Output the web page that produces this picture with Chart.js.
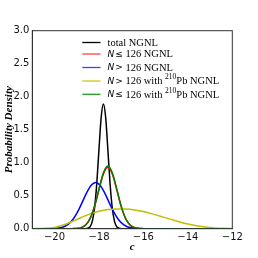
<!DOCTYPE html>
<html>
<head>
<meta charset="utf-8">
<script src="https://cdn.jsdelivr.net/npm/chart.js@4.4.0/dist/chart.umd.min.js"></script>
<style>
  html, body { margin: 0; padding: 0; background: #fff; }
  #c { display: block; }
</style>
</head>
<body>
<canvas id="c" width="258" height="258"></canvas>
<script>
// values
const xTicks = [-20, -18, -16, -14, -12];
const yTicks = [0, 0.5, 1.0, 1.5, 2.0, 2.5, 3.0];

const totalX = [-21, -18.8, -18.7, -18.6, -18.5, -18.4, -18.3, -18.2, -18.1, -18.0, -17.9, -17.8,
    -17.7, -17.6, -17.5, -17.4, -17.3, -17.2, -17.1, -17.0, -16.9, -16.8, -12];
const totalY = [0, 0, 0.0002, 0.001, 0.007, 0.03, 0.11, 0.31, 0.68, 1.20, 1.69, 1.89,
    1.69, 1.20, 0.68, 0.31, 0.11, 0.03, 0.007, 0.001, 0.0002, 0, 0];

const lowX = [-21, -19.6, -19.4, -19.2, -19.0, -18.8, -18.6, -18.4, -18.2, -18.0, -17.8, -17.6,
    -17.4, -17.2, -17.0, -16.8, -16.6, -16.4, -16.2, -16.0, -15.8, -15.6, -12];
const lowY = [0, 0, 0.0001, 0.001, 0.004, 0.016, 0.055, 0.152, 0.335, 0.59, 0.83, 0.93,
    0.83, 0.59, 0.335, 0.152, 0.055, 0.016, 0.004, 0.001, 0.0001, 0, 0];

const highX = [-21, -20.35, -20.15, -19.95, -19.75, -19.55, -19.35, -19.15, -18.95, -18.75, -18.55, -18.35,
    -18.15, -17.95, -17.75, -17.55, -17.35, -17.15, -16.95, -16.75, -16.55, -16.35, -16.15, -15.95, -12];
const highY = [0, 0, 0.001, 0.005, 0.013, 0.034, 0.076, 0.150, 0.261, 0.403, 0.547, 0.658,
    0.70, 0.658, 0.547, 0.403, 0.261, 0.150, 0.076, 0.034, 0.013, 0.005, 0.001, 0, 0];

const highPbX = [-21, -20.4, -20.0, -19.6, -19.2, -18.8, -18.4, -18.0, -17.6, -17.2, -16.8, -16.4,
    -16.0, -15.6, -15.2, -14.8, -14.4, -14.0, -13.6, -13.2, -12.8, -12.4, -12];
const highPbY = [0.001, 0.007, 0.02, 0.055, 0.11, 0.17, 0.225, 0.265, 0.29, 0.30, 0.298, 0.285,
    0.26, 0.225, 0.185, 0.145, 0.105, 0.07, 0.045, 0.025, 0.012, 0.005, 0.002];

const lowPbX = lowX;
const lowPbY = [0, 0, 0.0001, 0.001, 0.004, 0.016, 0.056, 0.155, 0.342, 0.603, 0.848, 0.95,
    0.848, 0.603, 0.342, 0.155, 0.056, 0.016, 0.004, 0.001, 0.0001, 0, 0];

function pts(xs, ys) {
    return xs.map((x, i) => ({ x: x, y: ys[i] }));
}

const serif = '"Liberation Serif", "DejaVu Serif", serif';
const sans = '"DejaVu Sans", sans-serif';

const tx = "10.5px " + serif;
const mN = { t: "N", f: "italic 9px " + sans, gap: 1 };
const mLe = { t: "≤", f: "9px " + sans };
const mGt = { t: ">", f: "9px " + sans };
const sup = { t: "210", f: "7.5px " + serif, dy: -4 };

// legend rows: line colour + text runs (mixed fonts, superscript)
const legendRows = [
    { color: "#000000", runs: [{ t: "total NGNL", f: tx }] },
    { color: "#ff4040", runs: [mN, mLe, { t: " 126 NGNL", f: tx }] },
    { color: "#4040ff", runs: [mN, mGt, { t: " 126 NGNL", f: tx }] },
    { color: "#c8c820", runs: [mN, mGt, { t: " 126 with ", f: tx }, sup, { t: "Pb NGNL", f: tx }] },
    { color: "#20a020", runs: [mN, mLe, { t: " 126 with ", f: tx }, sup, { t: "Pb NGNL", f: tx }] },
];
const legendRowY = [42.5, 54, 67.5, 81, 94.3];

const framePlugin = {
    id: "frame",
    afterDraw(chart) {
        const ctx = chart.ctx;
        const a = chart.chartArea;
        ctx.save();
        ctx.strokeStyle = "#333";
        ctx.lineWidth = 1;
        ctx.strokeRect(a.left, a.top, a.right - a.left, a.bottom - a.top);

        // legend
        legendRows.forEach((row, i) => {
            const y = legendRowY[i];
            ctx.strokeStyle = row.color;
            ctx.lineWidth = 1.3;
            ctx.beginPath();
            ctx.moveTo(82.3, y);
            ctx.lineTo(100.5, y);
            ctx.stroke();
            let x = 107.5;
            ctx.fillStyle = "#000";
            ctx.textBaseline = "middle";
            row.runs.forEach(r => {
                ctx.font = r.f;
                ctx.fillText(r.t, x, y + 0.5 + (r.dy || 0));
                x += ctx.measureText(r.t).width + (r.gap || 0);
            });
        });
        ctx.restore();
    }
};

function ds(label, xs, ys, color, order) {
    return {
        label: label,
        data: pts(xs, ys),
        borderColor: color,
        backgroundColor: color,
        borderWidth: 1.5,
        pointRadius: 0,
        cubicInterpolationMode: "monotone",
        fill: false,
        order: order,
    };
}

new Chart(document.getElementById("c"), {
    type: "line",
    data: {
        datasets: [
            ds("total NGNL", totalX, totalY, "#000000", 5),
            ds("N ≤ 126 NGNL", lowX, lowY, "#ff0000", 4),
            ds("N > 126 NGNL", highX, highY, "#0000ff", 3),
            ds("N > 126 with 210Pb NGNL", highPbX, highPbY, "#bfbf00", 2),
            ds("N ≤ 126 with 210Pb NGNL", lowPbX, lowPbY, "#008000", 1),
        ],
    },
    options: {
        responsive: false,
        animation: false,
        layout: { padding: { left: 0, top: 30.7, right: 25.7, bottom: 0 } },
        plugins: {
            legend: { display: false },
            tooltip: { enabled: false },
        },
        scales: {
            x: {
                type: "linear",
                min: -21,
                max: -12,
                afterBuildTicks: s => { s.ticks = xTicks.map(v => ({ value: v })); },
                afterFit: s => { s.height = 29.3; },
                grid: { display: false, drawTicks: false },
                border: { color: "#333", width: 1 },
                ticks: {
                    color: "#111",
                    padding: 3,
                    maxRotation: 0,
                    font: { family: sans, size: 10 },
                    callback: v => (v < 0 ? "−" + Math.abs(v) : String(v)),
                },
                title: {
                    display: true,
                    text: "c",
                    color: "#000",
                    padding: { top: 0, bottom: 4.7 },
                    font: { family: serif, size: 11, style: "italic", weight: "bold" },
                },
            },
            y: {
                min: 0,
                max: 3,
                afterBuildTicks: s => { s.ticks = yTicks.map(v => ({ value: v })); },
                afterFit: s => { s.width = 32.3; },
                grid: { display: false, drawTicks: false },
                border: { color: "#333", width: 1 },
                ticks: {
                    color: "#111",
                    padding: 3,
                    font: { family: sans, size: 10 },
                    callback: v => Number(v).toFixed(1),
                },
                title: {
                    display: true,
                    text: "Probability Density",
                    color: "#000",
                    padding: { top: 2.7, bottom: 0 },
                    font: { family: serif, size: 11, style: "italic", weight: "bold" },
                },
            },
        },
    },
    plugins: [framePlugin],
});
</script>
</body>
</html>
